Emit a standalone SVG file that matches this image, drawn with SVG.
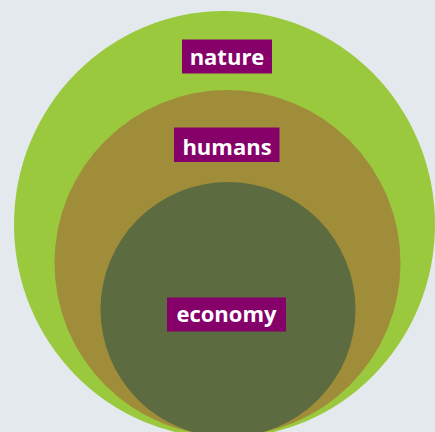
<svg xmlns="http://www.w3.org/2000/svg" width="435" height="432" viewBox="0 0 435 432">
<style>
.lbl{fill:#850069}
.txt{fill:#ffffff;font-family:"Open Sans","Noto Sans",sans-serif;font-weight:bold;font-size:22px;text-anchor:middle}
</style>
<rect width="435" height="432" fill="#e4e9ed"/>
<g id="nature">
<ellipse cx="224.5" cy="224.5" rx="210.5" ry="213.5" fill="#9ac93e"/>
<rect class="lbl" x="182" y="39.5" width="90" height="34"/>
<text class="txt" x="227" y="65">nature</text>
</g>
<g id="humans">
<circle cx="227.5" cy="263" r="173" fill="#a08d3a"/>
<rect class="lbl" x="174" y="127.5" width="105.5" height="34.5"/>
<text class="txt" x="227" y="155">humans</text>
</g>
<g id="economy">
<circle cx="228" cy="309.5" r="127.5" fill="#5c6b40"/>
<rect class="lbl" x="167" y="297.5" width="119" height="34"/>
<text class="txt" x="226.5" y="322">economy</text>
</g>
<g id="connectors"/>
</svg>
